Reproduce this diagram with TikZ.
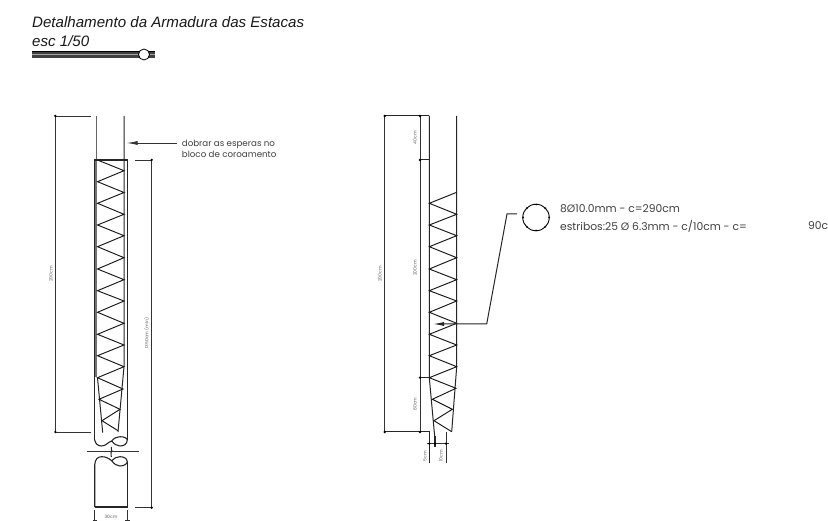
\documentclass[tikz,border=0pt]{standalone}
\usepackage{fontspec}
\setmainfont{Poppins}
\newfontfamily\titlefont{Liberation Sans}
\usetikzlibrary{arrows.meta,calc}
\tikzset{
 ln/.style={line width=1pt,black!85},
 thin ln/.style={line width=0.8pt,black!80},
 grey ln/.style={line width=1pt,black!60},
 zz/.style={line width=0.95pt,black!90},
 dimtxt/.style={font=\fontsize{4.5}{4.5}\selectfont,text=black!60,rotate=90,inner sep=0pt},
 lbl/.style={font=\fontsize{10.75}{11}\selectfont,text=black!75,anchor=west,inner sep=0pt,align=left},
 ttl/.style={font=\titlefont\itshape\fontsize{15.1}{15.1}\selectfont,text=black!90,anchor=west,inner sep=0pt},
}
\begin{document}
\begin{tikzpicture}[x=1pt,y=-1pt]
\useasboundingbox (0,0) rectangle (828,521);
\fill[white] (0,0) rectangle (828,521);
% title
\node[ttl] (t1) at (32,22) {Detalhamento da Armadura das Estacas};
\node[ttl] (t2) at (32,41) {esc 1/50};
\fill[black!75] (32,51) rectangle (155,58);
\draw[black!35,line width=0.8pt] (32,54.3) -- (155,54.3);
\draw[black,line width=1.2pt] (32,51.6) -- (155,51.6);
\node[circle,draw=black,fill=white,line width=0.8pt,minimum size=11pt,inner sep=0pt] (sc) at (144,54.5) {};
% left pile
\fill[black!55] (94.7,160) rectangle (97.2,377);
\draw[grey ln] (96.7,116) -- (96.7,160);
\draw[ln] (124,116) -- (124,366.7) -- (118,432);
\draw[ln] (97.5,377.7) -- (102.7,432.7);
\draw[ln,line width=1.1pt] (94.7,440) -- (94.7,160) -- (127.3,160) -- (127.3,440);
\draw[zz] (97.5,160) -- (124,170.7) -- (97.5,181.7) -- (124,192.5) -- (97.5,203.3) -- (124,214.3)
 -- (97.5,225) -- (124,235.7) -- (97.5,246.7) -- (124,257.7) -- (97.5,269) -- (124,279.7)
 -- (97.5,290.7) -- (124,301) -- (97.5,312.3) -- (124,323.3) -- (97.5,334.3) -- (124,345)
 -- (97.5,355.7) -- (124,366.7) -- (97.5,377.7) -- (123,389) -- (99,399.3) -- (120,409.3)
 -- (102,420.7) -- (118,430.7);
% break
\draw[ln,line width=1.1pt] (94.7,440) .. controls (95.5,444) and (98,446) .. (101.7,446)
 .. controls (106,446) and (108,442) .. (111.7,441)
 .. controls (114,438) and (117,436.7) .. (120,436.7)
 .. controls (124,436.7) and (127,438) .. (127.3,440)
 .. controls (127,444) and (124,446) .. (120,446)
 .. controls (117,446) and (114,444) .. (111.7,441);
\draw[ln,line width=1.1pt] (94.7,507) -- (94.7,465) .. controls (95,459) and (98,456.7) .. (101.7,456.7)
 .. controls (106,456.7) and (108,458) .. (111.7,460.7)
 .. controls (114,464) and (117,466) .. (120,466)
 .. controls (124,466) and (127,464) .. (127.3,461.7)
 .. controls (127,458.5) and (124,456.7) .. (120,456.7)
 .. controls (117,456.7) and (114,458) .. (111.7,460.7);
\draw[ln,line width=1.1pt] (127.3,461.7) -- (127.3,507) -- (94.7,507);
\draw[thin ln] (86.7,451.3) -- (138.7,451.3);
\draw[ln] (111.3,447) -- (111.3,450) -- (112,451) -- (111,452.5) -- (111.3,457);
% left pile dims
\coordinate (la) at (55.3,116); \coordinate (lb) at (55.3,432);
\draw[thin ln] (91.3,116) -- (la) -- (lb) -- (91.3,432);
\fill (la) circle (1.3); \fill (lb) circle (1.3);
\coordinate (ra) at (151.7,160); \coordinate (rb) at (151.7,507.7);
\draw[thin ln] (135,160) -- (ra) -- (rb) -- (135,507.7);
\fill (ra) circle (1.3); \fill (rb) circle (1.3);
\draw[thin ln] (94.7,510) -- (94.7,521);
\draw[thin ln] (127.3,510) -- (127.3,521);
\draw[thin ln] (92.7,520) -- (97,520);
\draw[thin ln] (125,520) -- (129.5,520);
\node[dimtxt,rotate=-90] (d30) at (111,517) {30cm};
\node[dimtxt] (d290a) at (51,274) {290cm};
\node[dimtxt] (d1350) at (146.7,333) {1350cm (mín)};
% arrow
\coordinate (arA) at (176.7,143); \coordinate (arB) at (126.7,143);
\draw[thin ln,-{Latex[length=11pt,width=4pt]}] (arA) -- (arB);
\node[lbl,font=\fontsize{8.7}{11}\selectfont] (note) at (181.7,148.5) {dobrar as esperas no\\bloco de coroamento};
% right pile
\draw[ln] (456.7,116) -- (456.7,366.7) -- (451.7,431.7);
\draw[ln] (429.3,116) -- (429.3,377.7) -- (435,440) -- (435,446.7);
\draw[zz] (456.7,192.3) -- (429.3,203.3) -- (456.7,214.3) -- (429.3,225) -- (456.7,235.7) -- (429.3,246.7)
 -- (456.7,257.7) -- (429.3,269) -- (456.7,279.7) -- (429.3,290.7) -- (456.7,301) -- (429.3,312.3)
 -- (456.7,323.3) -- (429.3,334.3) -- (456.7,345) -- (429.3,355.7) -- (456.7,366.7) -- (429.3,377.7)
 -- (456,388.3) -- (432.3,399.3) -- (452.3,409.3) -- (434,420.7) -- (451.7,431.7);
\coordinate (oa) at (384.7,116); \coordinate (ob) at (384.7,432);
\coordinate (ia) at (420,116); \coordinate (ib) at (420,160); \coordinate (ic) at (420,377.7); \coordinate (id) at (420,432);
\draw[ln] (oa) -- (429.3,116);
\draw[thin ln] (oa) -- (ob);
\draw[ln] (ob) -- (429.3,432) -- (429.3,463.3);
\draw[thin ln] (ia) -- (id);
\draw[ln] (ib) -- (429.3,160);
\draw[ln] (ic) -- (429.3,377.7);
\foreach \p in {oa,ob,ia,ib,ic,id} {\fill (\p) circle (1.3);}
\draw[thin ln] (446,432) -- (446,462.7);
\coordinate (e1) at (429.3,443.7); \coordinate (e2) at (435,443.7); \coordinate (e3) at (446,443.7);
\draw[thin ln] (426.7,443.7) -- (449.3,443.7);
\draw[line width=1.6pt,black!85] (435,436) -- (435,446.7);
\foreach \p in {e1,e2,e3} {\fill (\p) circle (1.3);}
\node[dimtxt] (d290b) at (380,274) {290cm};
\node[dimtxt] (d40) at (415,137.7) {40cm};
\node[dimtxt] (d200) at (415,268) {200cm};
\node[dimtxt] (d80) at (415,404) {80cm};
\node[dimtxt] (d5) at (425,456) {5cm};
\node[dimtxt] (d10) at (441,456) {10cm};
% leader
\node[circle,draw=black,line width=0.9pt,minimum size=26.5pt,inner sep=0pt] (sec) at (536,217.5) {};
\foreach \a in {0,45,...,315} {\fill ($(536,217.5)+(\a:13)$) circle (1);}
\coordinate (l1) at (517,214); \coordinate (l2) at (507,214); \coordinate (l3) at (486.7,324);
\draw[ln,-{Latex[length=11pt,width=4pt]}] (l1) -- (l2) -- (l3) -- (433,324);
\node[lbl] (s1) at (560,209) {8Ø10.0mm - c=290cm};
\node[lbl] (s2) at (560,226) {estribos:25 Ø 6.3mm - c/10cm - c=};
\node[lbl] (s3) at (808,226) {90c};
\end{tikzpicture}
\end{document}
